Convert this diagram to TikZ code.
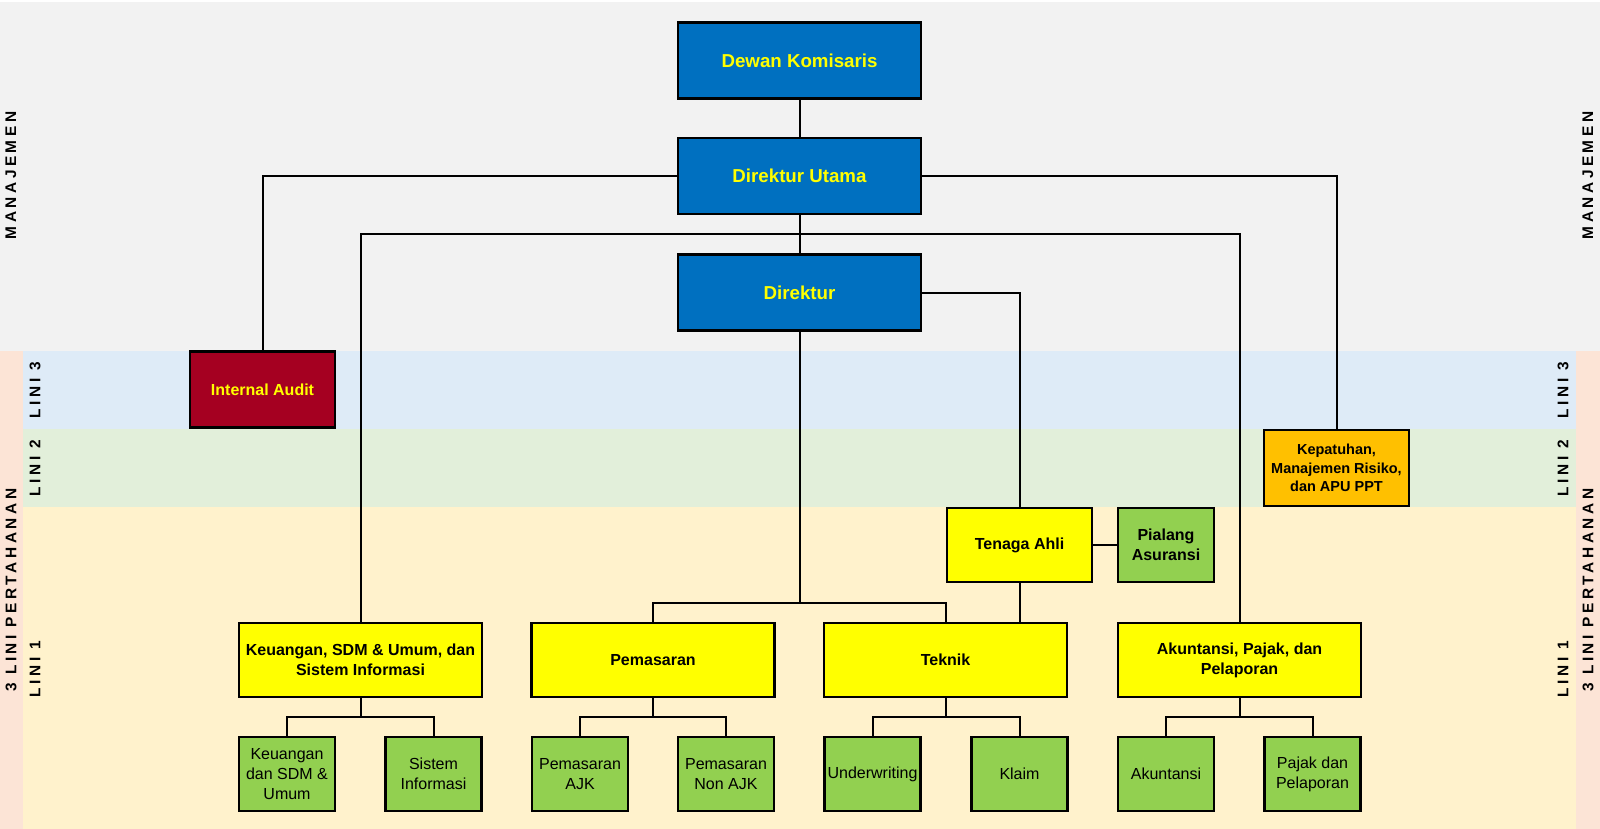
\documentclass[tikz,border=0pt]{standalone}
\usepackage{fontspec}
\setmainfont{Liberation Sans}
\newfontfamily\spacedfont[LetterSpace=23]{Liberation Sans}
\definecolor{bandgrey}{HTML}{F2F2F2}
\definecolor{bandblue}{HTML}{DEEBF7}
\definecolor{bandgreen}{HTML}{E2EFDA}
\definecolor{bandyellow}{HTML}{FFF2CC}
\definecolor{bandpink}{HTML}{FCE4D6}
\definecolor{boxblue}{HTML}{0070C0}
\definecolor{txtyellow}{HTML}{FFFF00}
\definecolor{boxred}{HTML}{A50021}
\definecolor{boxorange}{HTML}{FFC000}
\definecolor{boxyellow}{HTML}{FFFF00}
\definecolor{boxgreen}{HTML}{92D050}
\begin{document}
\begin{tikzpicture}[x=0.5pt,y=-0.5pt,
  box/.style={draw=black, line width=1.25pt, inner sep=0pt, align=center},
  topbox/.style={box, fill=boxblue, text=txtyellow, font=\fontsize{9.35}{11.5}\selectfont\bfseries, minimum width=121.5pt, minimum height=38pt},
  redbox/.style={box, fill=boxred, text=txtyellow, font=\fontsize{8}{10}\selectfont\bfseries, minimum width=72.5pt, minimum height=38pt},
  orangebox/.style={box, fill=boxorange, font=\fontsize{7.25}{9.15}\selectfont\bfseries, minimum width=72.5pt, minimum height=38pt},
  ybox/.style={box, fill=boxyellow, font=\fontsize{8}{10}\selectfont\bfseries, minimum width=121.5pt, minimum height=37pt},
  smallybox/.style={box, fill=boxyellow, font=\fontsize{8}{10}\selectfont\bfseries, minimum width=72.5pt, minimum height=37pt},
  gboldbox/.style={box, fill=boxgreen, font=\fontsize{8}{10}\selectfont\bfseries, minimum width=48pt, minimum height=37pt},
  gbox/.style={box, fill=boxgreen, font=\fontsize{8}{10}\selectfont, minimum width=48pt, minimum height=37pt},
  lbl/.style={rotate=90, inner sep=0pt, font=\spacedfont\fontsize{7.7}{9}\selectfont\bfseries},
  conn/.style={draw=black, line width=1pt}]
% background bands
\fill[white] (0,0) rectangle (1600,829);
\fill[bandgrey] (0,2) rectangle (1600,351);
\fill[bandblue] (23,351) rectangle (1576,429);
\fill[bandgreen] (23,429) rectangle (1576,507);
\fill[bandyellow] (23,507) rectangle (1576,829);
\fill[bandpink] (0,351) rectangle (23,829);
\fill[bandpink] (1576,351) rectangle (1600,829);
\useasboundingbox (0,0) rectangle (1600,829);
% side labels
\node[lbl] (manL) at (11,175.5) {MANAJEMEN};
\node[lbl] (manR) at (1588,175.5) {MANAJEMEN};
\node[lbl] (pertL) at (11,590) {3 LINI PERTAHANAN};
\node[lbl] (pertR) at (1588,590) {3 LINI PERTAHANAN};
\node[lbl] (l3L) at (35,390) {LINI 3};
\node[lbl] (l2L) at (35,468) {LINI 2};
\node[lbl] (l1L) at (35,669) {LINI 1};
\node[lbl] (l3R) at (1563,390) {LINI 3};
\node[lbl] (l2R) at (1563,468) {LINI 2};
\node[lbl] (l1R) at (1563,669) {LINI 1};
% coordinates for buses
\coordinate (busA) at (799.5,234);
\coordinate (busB) at (799.5,603);
% nodes
\node[topbox] (dk) at (799.5,60.5) {Dewan Komisaris};
\node[topbox] (du) at (799.5,176) {Direktur Utama};
\node[topbox] (dir) at (799.5,292.5) {Direktur};
\node[redbox] (ia) at (262.5,389.5) {Internal Audit};
\node[orangebox] (kep) at (1336.5,468) {Kepatuhan,\\Manajemen Risiko,\\dan APU PPT};
\node[smallybox] (ta) at (1019.5,545) {Tenaga Ahli};
\node[gboldbox] (pa) at (1166,545) {Pialang\\Asuransi};
\node[ybox] (keu) at (360.5,660) {Keuangan, SDM \& Umum, dan\\Sistem Informasi};
\node[ybox] (pem) at (653,660) {Pemasaran};
\node[ybox] (tek) at (945.5,660) {Teknik};
\node[ybox] (aku) at (1239.5,660) {Akuntansi, Pajak, dan\\Pelaporan};
\node[gbox] (c1) at (287,774) {Keuangan\\dan SDM \&\\Umum};
\node[gbox] (c2) at (433.5,774) {Sistem\\Informasi};
\node[gbox] (c3) at (580,774) {Pemasaran\\AJK};
\node[gbox] (c4) at (726,774) {Pemasaran\\Non AJK};
\node[gbox] (c5) at (872.5,774) {Underwriting};
\node[gbox] (c6) at (1019.5,774) {Klaim};
\node[gbox] (c7) at (1166,774) {Akuntansi};
\node[gbox] (c8) at (1312.5,774) {Pajak dan\\Pelaporan};
% connectors
\draw[conn] (dk.south) -- (du.north);
\draw[conn] (du.south) -- (dir.north);
\draw[conn] (du.west) -| (ia.north);
\draw[conn] (du.east) -| (kep.north);
\draw[conn] (keu.north) |- (busA) -| (aku.north);
\draw[conn] (dir.east) -| (ta.north);
\draw[conn] (dir.south) -- (busB);
\draw[conn] (pem.north) |- (busB) -| (tek.north);
\draw[conn] (ta.south) -- (ta.south |- tek.north);
\draw[conn] (ta.east) -- (pa.west);
\draw[conn] (keu.south) -- ++(0,19) -| (c1.north);
\draw[conn] (keu.south) ++(0,19) -| (c2.north);
\draw[conn] (pem.south) -- ++(0,19) -| (c3.north);
\draw[conn] (pem.south) ++(0,19) -| (c4.north);
\draw[conn] (tek.south) -- ++(0,19) -| (c5.north);
\draw[conn] (tek.south) ++(0,19) -| (c6.north);
\draw[conn] (aku.south) -- ++(0,19) -| (c7.north);
\draw[conn] (aku.south) ++(0,19) -| (c8.north);
\end{tikzpicture}
\end{document}
